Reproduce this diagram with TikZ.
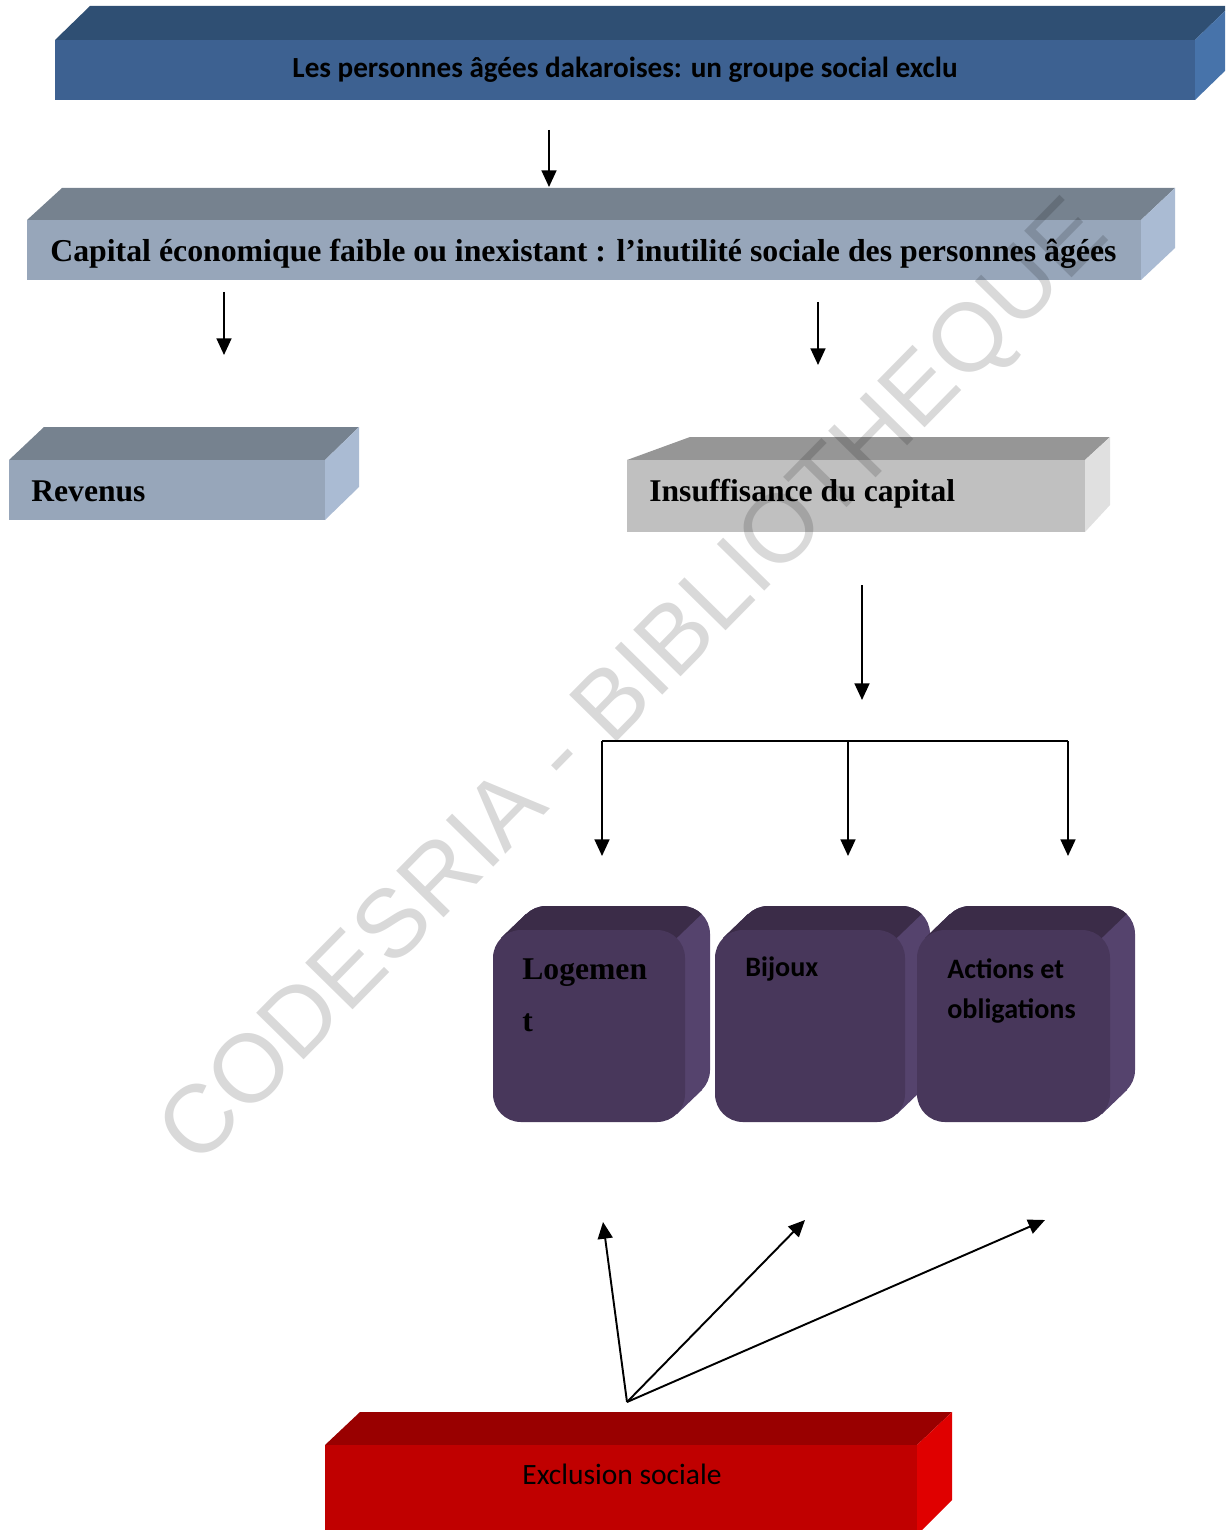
\documentclass[tikz,border=0pt]{standalone}
\usepackage{fontspec}
\setmainfont{Liberation Serif}
\newfontfamily\calib{Carlito}
\newfontfamily\wmfont{Liberation Sans}
\usetikzlibrary{arrows.meta}
\definecolor{blueF}{HTML}{3D6191}
\definecolor{blueT}{HTML}{2F4F73}
\definecolor{blueS}{HTML}{4773AA}
\definecolor{gbF}{HTML}{97A6BA}
\definecolor{gbT}{HTML}{76828F}
\definecolor{gbS}{HTML}{AABBD3}
\definecolor{silF}{HTML}{C0C0C0}
\definecolor{silT}{HTML}{969696}
\definecolor{silS}{HTML}{E0E0E0}
\definecolor{purpF}{HTML}{48375B}
\definecolor{purpT}{HTML}{3B2C48}
\definecolor{purpS}{HTML}{55436D}
\definecolor{redF}{HTML}{C00000}
\definecolor{redT}{HTML}{990000}
\definecolor{redS}{HTML}{E00000}
\newcommand\pbox[4]{%
 \fill[purpS,rounded corners=15.9pt] ({#1+25},{#2-24}) rectangle ({#3+25},{#4-24});
 \fill[purpS] ({#1+8},{#2+8}) -- ({#1+33},{#2-16}) -- ({#3+17},{#4-32}) -- ({#3-8},{#4-8}) -- cycle;
 \begin{scope}
  \clip ({#3+52},{#2-50}) -- ({#3+52},{#2-300}) -- ({#1-300},{#2-300}) -- ({#1-300},{#2+248}) -- ({#3-258},{#2+248}) -- cycle;
  \fill[purpT,rounded corners=15.9pt] ({#1+25},{#2-24}) rectangle ({#3+25},{#4-24});
  \fill[purpT] ({#1+8},{#2+8}) -- ({#1+33},{#2-16}) -- ({#3+17},{#4-32}) -- ({#3-8},{#4-8}) -- cycle;
 \end{scope}
 \fill[purpF,rounded corners=15.9pt] (#1,#2) rectangle (#3,#4);
}
\begin{document}
\begin{tikzpicture}[x=0.02cm,y=-0.02cm,
  arr/.style={-{Triangle[length=9.5pt,width=8.5pt]},line width=1.1pt},
  lbl/.style={inner sep=0pt,anchor=base west,text=black}]
\useasboundingbox (0,0) rectangle (1225,1530);
\clip (0,0) rectangle (1225,1530);
% top box
\fill[blueT] (55,40) -- (90,6) -- (1230,6) -- (1195,40) -- cycle;
\fill[blueS] (1195,40) -- (1230,6) -- (1230,66) -- (1195,100) -- cycle;
\fill[blueF] (55,40) rectangle (1195,100);
\node[inner sep=0pt,anchor=base,font=\calib\bfseries\fontsize{16.6}{20}\selectfont] (t1) at (625,78) {Les personnes âgées dakaroises: un groupe social exclu};
% capital box
\fill[gbT] (27,220) -- (62,188) -- (1175,188) -- (1141,220) -- cycle;
\fill[gbS] (1141,220) -- (1175,188) -- (1175,248) -- (1141,280) -- cycle;
\fill[gbF] (27,220) rectangle (1141,280);
\node[lbl,font=\bfseries\fontsize{18.1}{22}\selectfont] (t2) at (50,262) {Capital économique faible ou inexistant : l’inutilité sociale des personnes âgées};
% revenus
\fill[gbT] (9,460) -- (44,427) -- (359,427) -- (325,460) -- cycle;
\fill[gbS] (325,460) -- (359,427) -- (359,487) -- (325,520) -- cycle;
\fill[gbF] (9,460) rectangle (325,520);
\node[lbl,font=\bfseries\fontsize{18}{22}\selectfont] (t3) at (31,501) {Revenus};
% insuffisance
\fill[silT] (627,460) -- (690,437) -- (1110,437) -- (1085,460) -- cycle;
\fill[silS] (1085,460) -- (1110,437) -- (1110,505) -- (1085,532) -- cycle;
\fill[silF] (627,460) rectangle (1085,532);
\node[lbl,font=\bfseries\fontsize{18}{22}\selectfont] (t4) at (649,501) {Insuffisance du capital};
% purple boxes
\pbox{493}{930}{685}{1122}
\pbox{715}{930}{905}{1122}
\pbox{917}{930}{1110}{1122}
\node[lbl,align=left,font=\bfseries\fontsize{18}{29.5}\selectfont] (t5) at (522,1031) {Logemen\\t};
\node[lbl,font=\calib\bfseries\fontsize{16}{22.7}\selectfont] (t6) at (745,976) {Bijoux};
\node[lbl,align=left,font=\calib\bfseries\fontsize{16}{22.7}\selectfont] (t7) at (947,1018) {Actions et\\obligations};
% red box
\fill[redT] (325,1445) -- (360,1412) -- (952,1412) -- (917,1445) -- cycle;
\fill[redS] (917,1445) -- (952,1412) -- (952,1500) -- (917,1535) -- cycle;
\fill[redF] (325,1445) rectangle (917,1535);
\node[inner sep=0pt,anchor=base,font=\calib\fontsize{16.8}{20}\selectfont] (t8) at (622,1484) {Exclusion sociale};
% arrows
\coordinate (a1s) at (549,130); \coordinate (a1e) at (549,187);
\coordinate (a2s) at (224,292); \coordinate (a2e) at (224,355);
\coordinate (a3s) at (818,302); \coordinate (a3e) at (818,365);
\coordinate (a4s) at (862,585); \coordinate (a4e) at (862,700);
\coordinate (bl) at (602,741); \coordinate (bm) at (848,741); \coordinate (br) at (1068,741);
\coordinate (bl2) at (602,856); \coordinate (bm2) at (848,856); \coordinate (br2) at (1068,856);
\coordinate (ex) at (627,1402);
\coordinate (u1) at (603,1222); \coordinate (u2) at (805,1220); \coordinate (u3) at (1045,1220);
\draw[arr] (a1s) -- (a1e);
\draw[arr] (a2s) -- (a2e);
\draw[arr] (a3s) -- (a3e);
\draw[arr] (a4s) -- (a4e);
\draw[line width=1.1pt] (bl) -- (br);
\draw[arr] (bl) -- (bl2);
\draw[arr] (bm) -- (bm2);
\draw[arr] (br) -- (br2);
\draw[arr] (ex) -- (u1);
\draw[arr] (ex) -- (u2);
\draw[arr] (ex) -- (u3);
% watermark
\node[rotate=45.5,text=black,text opacity=0.15,inner sep=0pt,font=\wmfont\fontsize{55}{60}\selectfont] (wm) at (637,686) {CODESRIA - BIBLIOTHEQUE};
\end{tikzpicture}
\end{document}
